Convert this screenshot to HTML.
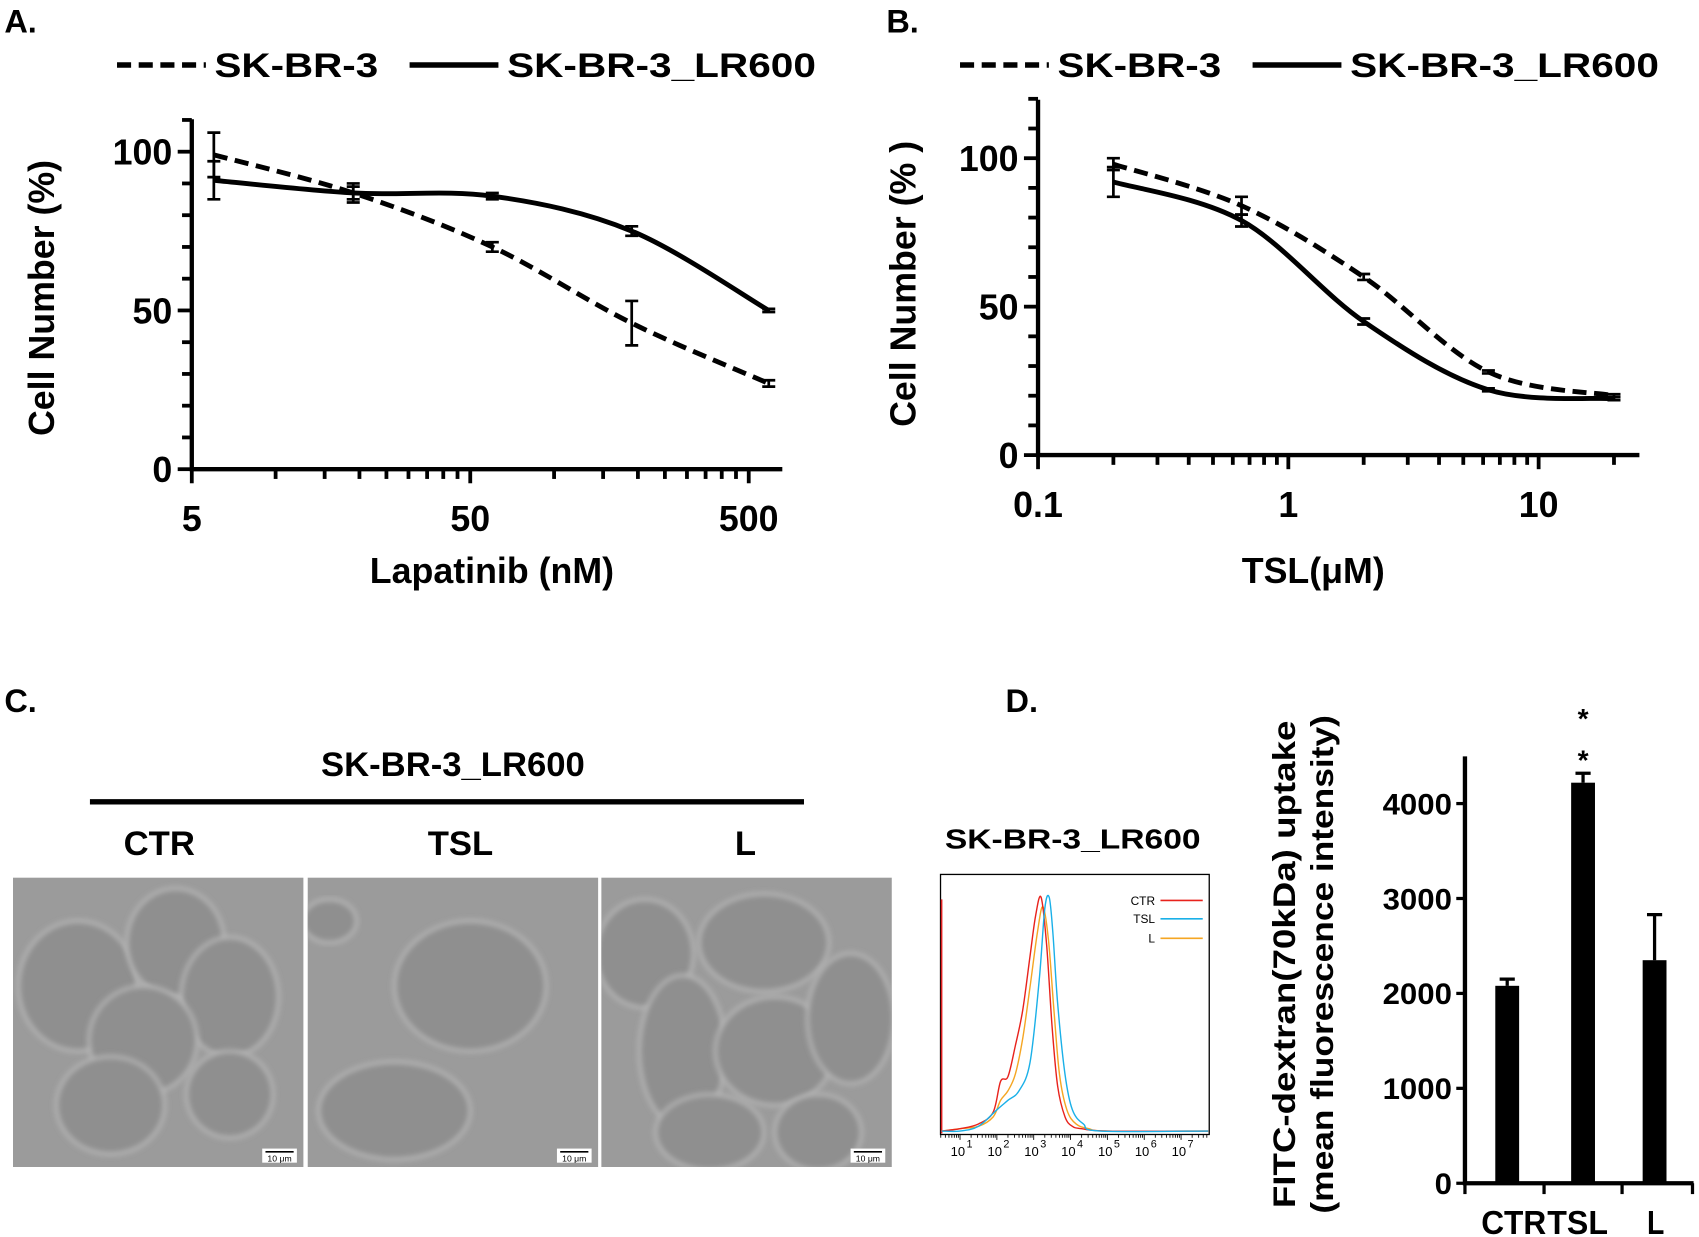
<!DOCTYPE html>
<html><head><meta charset="utf-8"><style>
html,body{margin:0;padding:0;background:#fff;}
svg{display:block;font-family:"Liberation Sans",sans-serif;font-weight:bold;}
</style></head><body>
<svg id="fig" width="1699" height="1237" viewBox="0 0 1568 1141.6" preserveAspectRatio="none" xmlns="http://www.w3.org/2000/svg">
<defs>
<filter id="blur"><feGaussianBlur stdDeviation="2.5"/></filter>
<clipPath id="c0"><rect x="12" y="810" width="268" height="267"/></clipPath>
<clipPath id="c1"><rect x="284" y="810" width="268" height="267"/></clipPath>
<clipPath id="c2"><rect x="555" y="810" width="268" height="267"/></clipPath>
</defs>
<g font-size="30">
<text x="4" y="30">A.</text><text x="818" y="30">B.</text><text x="4" y="657">C.</text><text x="928" y="657">D.</text>
</g>
<g id="A"></g>
<g id="B"></g>
<g id="C"></g>
<g id="H"></g>
<g id="D"></g>
</svg>
<script>
// ---- Panel A data ----
const aDoses = [6, 19, 60, 190, 590];
const aParental = [99, 87, 70, 46, 27];
const aParentalErr = [7, 2, 1.5, 7, 1];
const aResistant = [91, 87, 86, 75, 50];
const aResistantErr = [6, 3, 1, 1.5, 0.5];
const aYTicks = [0, 50, 100];
const aXTicks = [5, 50, 500];
// ---- Panel B data ----
const bDoses = [0.2, 0.65, 2, 6.3, 20];
const bParental = [98, 84, 60, 28, 20];
const bParentalErr = [2, 3, 1, 0.5, 0.5];
const bResistant = [92, 79, 45, 22, 19];
const bResistantErr = [5, 2, 1, 0.5, 0.5];
const bYTicks = [0, 50, 100];
const bXTicks = [0.1, 1, 10];
// ---- Panel D data ----
const dCats = ["CTR", "TSL", "L"];
const dValues = [2080, 4220, 2350];
const dErr = [70, 100, 480];
const dYTicks = [0, 1000, 2000, 3000, 4000];
// ---- Histogram data (log10 intensity, % of max) ----
const hCtrLog = [0.5,1.0,1.5,1.9,2.1,2.3,2.5,2.7,2.9,3.05,3.2,3.35,3.5,3.65,3.85,4.05,4.3,5,8];
const hCtrCnt = [1,2,4,9,22,24,37,52,75,92,100,80,45,20,7,3,2,1,1];
const hTslLog = [0.5,1.0,1.5,2.0,2.3,2.6,2.9,3.15,3.3,3.42,3.52,3.65,3.85,4.05,4.35,4.8,8];
const hTslCnt = [1,1,3,10,14,18,30,65,95,100,85,55,25,10,4,1,1];
const hLLog = [0.5,1.0,1.5,1.9,2.1,2.3,2.5,2.7,2.9,3.1,3.25,3.4,3.55,3.7,3.9,4.15,4.5,5,8];
const hLCnt = [1,2,3,7,14,18,25,40,62,85,96,82,52,25,10,4,2,1,1];
const hDecades = [1,2,3,4,5,6,7];

const NS="http://www.w3.org/2000/svg";
function mk(parent, tag, attrs, text){
  const e=document.createElementNS(NS,tag);
  for(const k in attrs) e.setAttribute(k,attrs[k]);
  if(text!==undefined) e.textContent=text;
  parent.appendChild(e); return e;
}
function smooth(pts){
  let d="M"+pts[0][0]+","+pts[0][1];
  for(let i=0;i<pts.length-1;i++){
    const p0=pts[Math.max(0,i-1)],p1=pts[i],p2=pts[i+1],p3=pts[Math.min(pts.length-1,i+2)];
    const c1=[p1[0]+(p2[0]-p0[0])/6,p1[1]+(p2[1]-p0[1])/6];
    const c2=[p2[0]-(p3[0]-p1[0])/6,p2[1]-(p3[1]-p1[1])/6];
    d+=` C${c1[0]},${c1[1]} ${c2[0]},${c2[1]} ${p2[0]},${p2[1]}`;
  }
  return d;
}

function doseChart(g, cfg){
  const X=v=>cfg.x0+Math.log10(v/cfg.xmin)*cfg.dec;
  const Y=v=>cfg.y0-v*cfg.py;
  let l=mk(g,'line',{x1:cfg.lx,y1:cfg.ly,x2:cfg.lx+82,y2:cfg.ly,stroke:'#000','stroke-width':5,'stroke-dasharray':'13,7'});
  
  
  let t=mk(g,'text',{x:cfg.lx+90,y:cfg.ly+11,'font-size':32,textLength:151,lengthAdjust:'spacingAndGlyphs'},'SK-BR-3');
  
  
  l=mk(g,'line',{x1:cfg.lx2,y1:cfg.ly,x2:cfg.lx2+82,y2:cfg.ly,stroke:'#000','stroke-width':5});
  
  
  t=mk(g,'text',{x:cfg.lx2+90,y:cfg.ly+11,'font-size':32,textLength:285,lengthAdjust:'spacingAndGlyphs'},'SK-BR-3_LR600');
  
  
  let ax=mk(g,'path',{d:`M${cfg.x0},${cfg.ytop} V${cfg.y0} H${cfg.xend}`,fill:'none',stroke:'#000','stroke-width':4});
  
  
  for(let v=0; cfg.y0-v*cfg.py>=cfg.ytop-1; v+=10){
    const big=cfg.yTicks.includes(v);
    mk(g,'line',{x1:cfg.x0-(big?13:9),y1:Y(v),x2:cfg.x0,y2:Y(v),stroke:'#000','stroke-width':3.5});
  }
  cfg.yTicks.forEach(v=>{
    const tt=mk(g,'text',{x:cfg.x0-18,y:Y(v)+12,'font-size':33,'text-anchor':'end'},String(v));
    
    
  });
  for(let dcd=cfg.xmin; dcd<cfg.xmax; dcd*=10){
    for(let m=1;m<10;m++){
      const v=dcd*m; if(v>cfg.xmax) break;
      const major=m===1;
      mk(g,'line',{x1:X(v),y1:cfg.y0,x2:X(v),y2:cfg.y0+(major?13:9),stroke:'#000','stroke-width':3.5});
    }
  }
  cfg.xTicks.forEach(v=>{
    const tt=mk(g,'text',{x:X(v),y:cfg.y0+57,'font-size':33,'text-anchor':'middle'},String(v));
    
    
  });
  const series=[[cfg.par,cfg.parE,'13,7','parental-curve'],[cfg.res,cfg.resE,null,'resistant-curve']];
  series.forEach(([vals,errs,dash,name])=>{
    const pts=cfg.doses.map((d,i)=>[X(d),Y(vals[i])]);
    const p=mk(g,'path',{d:smooth(pts),fill:'none',stroke:'#000','stroke-width':4.5});
    if(dash) p.setAttribute('stroke-dasharray',dash);
    
    
    cfg.doses.forEach((d,i)=>{
      const x=X(d),y1=Y(vals[i]+errs[i]),y2=Y(vals[i]-errs[i]);
      const e=mk(g,'path',{d:`M${x},${y1}V${y2}M${x-6},${y1}H${x+6}M${x-6},${y2}H${x+6}`,stroke:'#000','stroke-width':2.5,fill:'none'});
      
      
    });
  });
  const xt=mk(g,'text',{x:cfg.xtx,y:cfg.xty,'font-size':33,'text-anchor':'middle'},cfg.xtitle);
  
  
  const yt=mk(g,'text',{x:0,y:0,'font-size':33,'text-anchor':'middle',transform:`translate(${cfg.ytx},${cfg.yty}) rotate(-90)`},cfg.ytitle);
  
  
}

doseChart(document.getElementById('A'),{x0:177,y0:433,ytop:110,xend:722,py:2.93,xmin:5,xmax:660,dec:257,
  doses:aDoses,par:aParental,parE:aParentalErr,res:aResistant,resE:aResistantErr,yTicks:aYTicks,xTicks:aXTicks,
  lx:108,lx2:378,ly:60,xtx:454,xty:538,xtitle:'Lapatinib (nM)',ytx:50,yty:275,ytitle:'Cell Number (%)'});
doseChart(document.getElementById('B'),{x0:958,y0:420,ytop:92,xend:1513,py:2.74,xmin:0.1,xmax:25,dec:231,
  doses:bDoses,par:bParental,parE:bParentalErr,res:bResistant,resE:bResistantErr,yTicks:bYTicks,xTicks:bXTicks,
  lx:886,lx2:1156,ly:60,xtx:1212,xty:538,xtitle:'TSL(μM)',ytx:845,yty:262,ytitle:'Cell Number (% )'});

// ---- Panel C ----
(function(){
  const g=document.getElementById('C');
  let t=mk(g,'text',{x:418,y:716,'font-size':32,'text-anchor':'middle'},'SK-BR-3_LR600');
  
  
  let l=mk(g,'line',{x1:83,y1:740,x2:742,y2:740,stroke:'#000','stroke-width':5});
  
  
  const labs=[['CTR',147,12],['TSL',425,284],['L',688,555]];
  labs.forEach(([s,x,ix],k)=>{
    const tt=mk(g,'text',{x:x,y:789,'font-size':32,'text-anchor':'middle'},s);
    
    
    const r=mk(g,'rect',{x:ix,y:810,width:268,height:267,fill:'#9b9b9b'});
    
    
    const cg=mk(g,'g',{'clip-path':`url(#c${k})`});
    const cells=[
      [[60,100,55,60],[150,60,45,50],[200,110,45,55],[120,150,50,50],[90,210,50,45],[200,200,40,40]],
      [[150,100,70,60],[80,215,70,45],[20,40,25,20]],
      [[40,70,45,50],[75,160,40,70],[150,60,60,45],[160,160,55,50],[230,130,40,60],[100,235,50,35],[200,235,40,35]]][k];
    cells.forEach(([cx,cy,rx,ry])=>{
      mk(cg,'ellipse',{cx:ix+cx,cy:810+cy,rx:rx,ry:ry,fill:'#8f8f8f',stroke:'#bdbdbd','stroke-width':2.5,filter:'url(#blur)'});
    });
    mk(g,'rect',{x:ix+230,y:1060,width:32,height:13,fill:'#fff'});
    mk(g,'line',{x1:ix+233,y1:1063,x2:ix+259,y2:1063,stroke:'#000','stroke-width':1.5});
    const sb=mk(g,'text',{x:ix+246,y:1072,'font-size':8,'text-anchor':'middle','font-weight':'normal'},'10 μm');
    
    
  });
})();

// ---- Histogram ----
(function(){
  const g=document.getElementById('H');
  const X=lg=>886+(lg-1)*34, Y=c=>1046-c*2.18;
  let t=mk(g,'text',{x:990,y:783,'font-size':26,'text-anchor':'middle',textLength:236,lengthAdjust:'spacingAndGlyphs'},'SK-BR-3_LR600');
  
  
  const box=mk(g,'rect',{x:868,y:807,width:248,height:240,fill:'none',stroke:'#000','stroke-width':1.2});
  
  
  mk(g,'line',{x1:869,y1:830,x2:869,y2:1046,stroke:'#e02020','stroke-width':1.5});
  const ser=[[hLLog,hLCnt,'#f5a623','l'],[hCtrLog,hCtrCnt,'#e8221c','ctr'],[hTslLog,hTslCnt,'#1ab0e8','tsl']];
  ser.forEach(([lg,cn,col,n])=>{
    const pts=lg.map((v,i)=>[Math.min(1115,X(v)),Y(cn[i])]);
    const p=mk(g,'path',{d:smooth(pts),fill:'none',stroke:col,'stroke-width':1.3});
    
    
  });
  [['CTR','#e8221c',831],['TSL','#1ab0e8',848],['L','#f5a623',866]].forEach(([s,c,y])=>{
    const tt=mk(g,'text',{x:1066,y:y+4,'font-size':11,'text-anchor':'end','font-weight':'normal'},s);
    
    
    mk(g,'line',{x1:1071,y1:y,x2:1110,y2:y,stroke:c,'stroke-width':1.5});
  });
  for(let d=0; d<8; d++) for(let m=1;m<10;m++){
    const x=X(d+Math.log10(m)); if(x<868||x>1116) continue;
    mk(g,'line',{x1:x,y1:1047,x2:x,y2:1047+(m===1?5:3),stroke:'#000','stroke-width':0.8});
  }
  hDecades.forEach(d=>{
    const tt=mk(g,'text',{x:X(d)-2,y:1067,'font-size':12,'text-anchor':'middle','font-weight':'normal'},'10');
    
    
    mk(g,'text',{x:X(d)+6,y:1059,'font-size':10,'font-weight':'normal'},String(d));
  });
})();

// ---- Panel D ----
(function(){
  const g=document.getElementById('D');
  const x0=1352,y0=1092,py=0.0876;
  const Y=v=>y0-v*py;
  const cx=[1391,1461,1527];
  const ax=mk(g,'path',{d:`M${x0},698 V${y0} H1563`,fill:'none',stroke:'#000','stroke-width':4});
  
  
  [1425,1497,1562].forEach(x=>mk(g,'line',{x1:x,y1:y0,x2:x,y2:y0+10,stroke:'#000','stroke-width':3}));
  mk(g,'line',{x1:x0,y1:y0,x2:x0,y2:y0+10,stroke:'#000','stroke-width':3});
  dYTicks.forEach(v=>{
    mk(g,'line',{x1:x0-8,y1:Y(v),x2:x0,y2:Y(v),stroke:'#000','stroke-width':3});
    const t=mk(g,'text',{x:x0-12,y:Y(v)+10,'font-size':27,'text-anchor':'end',textLength:v?64:16,lengthAdjust:'spacingAndGlyphs'},String(v));
    
    
  });
  dCats.forEach((c,i)=>{
    const b=mk(g,'rect',{x:cx[i]-11,y:Y(dValues[i]),width:22,height:y0-Y(dValues[i]),fill:'#000'});
    
    
    const top=Y(dValues[i]+dErr[i]);
    const e=mk(g,'path',{d:`M${cx[i]},${Y(dValues[i])}V${top}M${cx[i]-7},${top}H${cx[i]+7}`,stroke:'#000','stroke-width':3,fill:'none'});
    
    
  });
  const lx=[1397,1456,1528];
  const lw=[60,56,16];
  dCats.forEach((c,i)=>{
    const t=mk(g,'text',{x:lx[i],y:1139,'font-size':31,'text-anchor':'middle',textLength:lw[i],lengthAdjust:'spacingAndGlyphs'},c);
    
    
  });
  const s1=mk(g,'text',{x:1461,y:672,'font-size':26,'text-anchor':'middle'},'*');
  
  
  const s2=mk(g,'text',{x:1461,y:710,'font-size':26,'text-anchor':'middle'},'*');
  
  
  const yt=mk(g,'text',{x:0,y:0,'font-size':29,'text-anchor':'middle',transform:'translate(1195,890) rotate(-90)',textLength:450,lengthAdjust:'spacingAndGlyphs'},'FITC-dextran(70kDa) uptake');
  
  
  const yt2=mk(g,'text',{x:0,y:0,'font-size':29,'text-anchor':'middle',transform:'translate(1230,890) rotate(-90)',textLength:460,lengthAdjust:'spacingAndGlyphs'},'(mean  fluorescence intensity)');
  
  
})();
</script>
</body></html>
